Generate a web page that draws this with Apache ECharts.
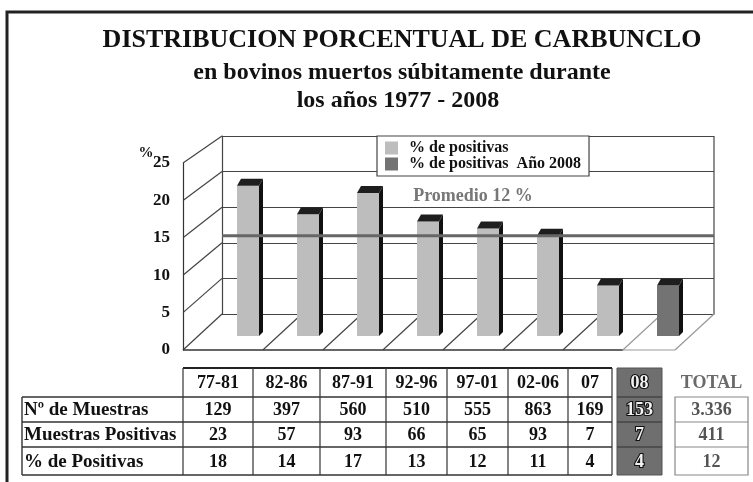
<!DOCTYPE html>
<html><head><meta charset="utf-8">
<script src="https://cdn.jsdelivr.net/npm/echarts@6/dist/echarts.min.js"></script>
<style>html,body{margin:0;padding:0;background:#fff}#c{width:753px;height:482px}</style>
</head><body><div id="c"></div>
<script>
// ---- data ----
const periodos = ['77-81','82-86','87-91','92-96','97-01','02-06','07','08'];
const pctPositivas = [18,14,17,13,12,11,4,4];
const nMuestras = [129,397,560,510,555,863,169,153];
const muestrasPositivas = [23,57,93,66,65,93,7,7];
const filas = ['Nº de Muestras','Muestras Positivas','% de Positivas'];
const totales = ['3.336','411','12'];
const yTicks = [0,5,10,15,20,25];
const promedioTexto = 'Promedio 12 %';
const promedioLinea = 11;
const serie1Nombre = '% de positivas';
const serie2Nombre = '% de positivas  Año 2008';
const titulo = 'DISTRIBUCION PORCENTUAL DE CARBUNCLO';
const subtitulo1 = 'en bovinos muertos súbitamente durante';
const subtitulo2 = 'los años 1977 - 2008';

// ---- layout ----
const FONT = '"Liberation Serif", "Times New Roman", serif';
const W = 753, H = 482;
const BACK = {left:222, right:714, top:136, bottom:314};
const FRONT = {left:183, top:163, bottom:350};
const BARS = {left:218, right:698};
const DEPTH = 22;          // bar base below back floor
const SLOPE = (BACK.left - FRONT.left) / (FRONT.bottom - BACK.bottom);
const FACE1 = '#bdbdbd', FACE2 = '#737373';
const TITLE_X = 397;

const chart = echarts.init(document.getElementById('c'), null, {renderer:'canvas'});

function makeRender(face){
  return function(params, api){
    const i = api.value(0), v = api.value(1);
    const top = api.coord([i, v]);
    const base = api.coord([i, 0]);
    const hw = 11, sd = 4, cap = 7;
    const x0 = top[0]-hw, x1 = top[0]+hw, yt = top[1], yb = base[1]+DEPTH;
    return {type:'group', children:[
      {type:'rect', shape:{x:x0, y:yt, width:2*hw, height:yb-yt}, style:{fill:face}},
      {type:'polygon', shape:{points:[[x1,yt],[x1+sd,yt-cap],[x1+sd,yb-4],[x1,yb]]}, style:{fill:'#111'}},
      {type:'polygon', shape:{points:[[x0,yt],[x0+sd,yt-cap],[x1+sd,yt-cap],[x1,yt]]}, style:{fill:'#1e1e1e'}}
    ]};
  };
}

const data1 = pctPositivas.slice(0,7).map((v,i)=>[i,v]);
const data2 = [[7, pctPositivas[7]]];

const option = {
  animation:false,
  backgroundColor:'#fff',
  textStyle:{fontFamily:FONT},
  title:[
    {text:titulo, left:TITLE_X, textAlign:'center', top:22, textStyle:{fontFamily:FONT, fontSize:26, fontWeight:'bold', color:'#111'}},
    {text:subtitulo1, left:TITLE_X, textAlign:'center', top:56, textStyle:{fontFamily:FONT, fontSize:24, fontWeight:'bold', color:'#111'}},
    {text:subtitulo2, left:TITLE_X-4, textAlign:'center', top:84, textStyle:{fontFamily:FONT, fontSize:24, fontWeight:'bold', color:'#111'}}
  ],
  legend:{
    orient:'vertical', left:377, top:136, padding:[4,8,4,8], itemGap:0,
    itemWidth:13, itemHeight:13, icon:'rect',
    borderColor:'#444', borderWidth:1.2, backgroundColor:'#fff',
    textStyle:{fontFamily:FONT, fontSize:16, fontWeight:'bold', color:'#111', lineHeight:13, padding:[0,0,0,6]},
    data:[serie1Nombre, serie2Nombre]
  },
  grid:[
    {left:BACK.left, right:W-BACK.right, top:BACK.top, bottom:H-BACK.bottom},
    {left:BARS.left, right:W-BARS.right, top:BACK.top, bottom:H-BACK.bottom},
    {left:FRONT.left, right:W-BACK.right, top:FRONT.top, bottom:H-FRONT.bottom}
  ],
  xAxis:[
    {gridIndex:0, type:'category', data:periodos, axisLine:{show:true, lineStyle:{color:'#444', width:1.2}}, axisTick:{show:false}, axisLabel:{show:false}},
    {gridIndex:1, type:'category', data:periodos, show:false},
    {gridIndex:2, type:'category', data:periodos, show:false}
  ],
  yAxis:[
    {gridIndex:0, type:'value', min:0, max:25, interval:5, axisLine:{show:true, lineStyle:{color:'#444', width:1.2}}, axisTick:{show:false}, axisLabel:{show:false}, splitLine:{show:true, lineStyle:{color:'#444', width:1.2}}},
    {gridIndex:1, type:'value', min:0, max:25, interval:5, show:false},
    {gridIndex:2, type:'value', min:0, max:25, interval:5, axisLine:{show:true, lineStyle:{color:'#333', width:1.2}}, axisTick:{show:false}, splitLine:{show:false},
      axisLabel:{show:true, margin:13, fontFamily:FONT, fontSize:17, fontWeight:'bold', color:'#111'}}
  ],
  series:[
    {name:serie1Nombre, type:'custom', xAxisIndex:1, yAxisIndex:1, data:data1, renderItem:makeRender(FACE1), itemStyle:{color:FACE1}, z:5},
    {name:serie2Nombre, type:'custom', xAxisIndex:1, yAxisIndex:1, data:data2, renderItem:makeRender(FACE2), itemStyle:{color:FACE2}, z:5}
  ]
};
chart.setOption(option);

// ---- decorations computed from the axes ----
const yb = v => chart.convertToPixel({yAxisIndex:0}, v);
const yf = v => chart.convertToPixel({yAxisIndex:2}, v);
const xc = i => chart.convertToPixel({xAxisIndex:1}, i);
const g = [];
const line = (x1,y1,x2,y2,color,width,z) => g.push({type:'line', shape:{x1,y1,x2,y2}, style:{stroke:color, lineWidth:width}, z:z||1, silent:true});
const text = (x,y,t,o) => g.push(Object.assign({type:'text', x, y, z:(o&&o.z)||50, style:Object.assign({text:t, font:'bold 18px '+FONT, fill:'#111', align:'center', verticalAlign:'middle'}, (o&&o.style)||{})}));

// outer frame
g.push({type:'rect', shape:{x:7, y:12, width:800, height:520}, style:{fill:null, stroke:'#222', lineWidth:3}, z:0, silent:true});

// side wall
yTicks.forEach(v => line(FRONT.left, yf(v), BACK.left, yb(v), '#444', 1.2));
// back right edge
line(BACK.right, yb(25), BACK.right, yb(0), '#444', 1.2);
// floor
const yb0 = yb(0), yf0 = yf(0);
const frontRight = BACK.right - (yf0 - yb0) * SLOPE;
const seps = [];
for (let k = 1; k < periodos.length; k++) {
  const xb = (xc(k-1) + xc(k)) / 2;
  seps.push({front: xb - (yf0 - yb0 - DEPTH) * SLOPE, back: xb + DEPTH * SLOPE});
}
const last = seps[seps.length-1];
line(FRONT.left, yf0, last.front, yf0, '#333', 1.4);
line(last.front, yf0, frontRight, yf0, '#999', 1.2);
line(frontRight, yf0, BACK.right, yb0, '#999', 1.2);
seps.forEach((s, k) => line(s.front, yf0, s.back, yb0, k === seps.length-1 ? '#999' : '#444', 1.2));
// promedio
const yp = yb(promedioLinea);
line(BACK.left, yp, BACK.right, yp, '#666', 3, 20);
text((BACK.left + BACK.right)/2 + 5, yp - 39, promedioTexto, {style:{fill:'#777', font:'bold 18px '+FONT}});
// % label
text(146, 153, '%', {style:{font:'bold 15px '+FONT}});

// ---- table ----
const colX = [183, 253, 320, 386, 447, 508, 568, 612];
const rowY = [368, 397, 422, 447, 475];
const labelLeft = 22;
const box08 = {x0:617, x1:662};
const boxTot = {x0:675, x1:748};
const TL = '#333';
line(colX[0], rowY[0], colX[7], rowY[0], '#222', 2.2, 40);
for (let r = 1; r < rowY.length; r++) line(labelLeft, rowY[r], colX[7], rowY[r], TL, 1.4, 40);
line(labelLeft, rowY[1], labelLeft, rowY[4], TL, 1.4, 40);
colX.forEach(x => line(x, rowY[0], x, rowY[4], TL, 1.2, 40));
g.push({type:'rect', shape:{x:box08.x0, y:rowY[0], width:box08.x1-box08.x0, height:rowY[4]-rowY[0]}, style:{fill:'#6f6f6f', stroke:'#555', lineWidth:1}, z:40, silent:true});
for (let r = 1; r < 4; r++) line(box08.x0, rowY[r], box08.x1, rowY[r], '#444', 1.4, 41);
g.push({type:'rect', shape:{x:boxTot.x0, y:rowY[1], width:boxTot.x1-boxTot.x0, height:rowY[4]-rowY[1]}, style:{fill:'#fff', stroke:'#888', lineWidth:1.2}, z:40, silent:true});
for (let r = 2; r < 4; r++) line(boxTot.x0, rowY[r], boxTot.x1, rowY[r], '#888', 1.2, 41);

const rowMid = r => (rowY[r] + rowY[r+1]) / 2 + 1;
const tablaFilas = [nMuestras, muestrasPositivas, pctPositivas];
periodos.forEach((p, i) => {
  const outlined = i === 7;
  const cx = outlined ? (box08.x0 + box08.x1)/2 : (colX[i] + colX[i+1]) / 2;
  const st = outlined ? {fill:'#f2f2f2', stroke:'#111', lineWidth:2.2} : {};
  text(cx, rowMid(0), p, {style:st});
  tablaFilas.forEach((arr, r) => text(cx, rowMid(r+1), String(arr[i]), {style:st}));
});
filas.forEach((f, r) => text(labelLeft + 2, rowMid(r+1), f, {style:{align:'left', font:'bold 19px '+FONT}}));
const cxTot = (boxTot.x0 + boxTot.x1) / 2;
text(cxTot, rowMid(0), 'TOTAL', {style:{fill:'#6a6a6a'}});
totales.forEach((t, r) => text(cxTot, rowMid(r+1), t, {style:{fill:'#555'}}));

chart.setOption({graphic:{elements:g}});
</script></body></html>
